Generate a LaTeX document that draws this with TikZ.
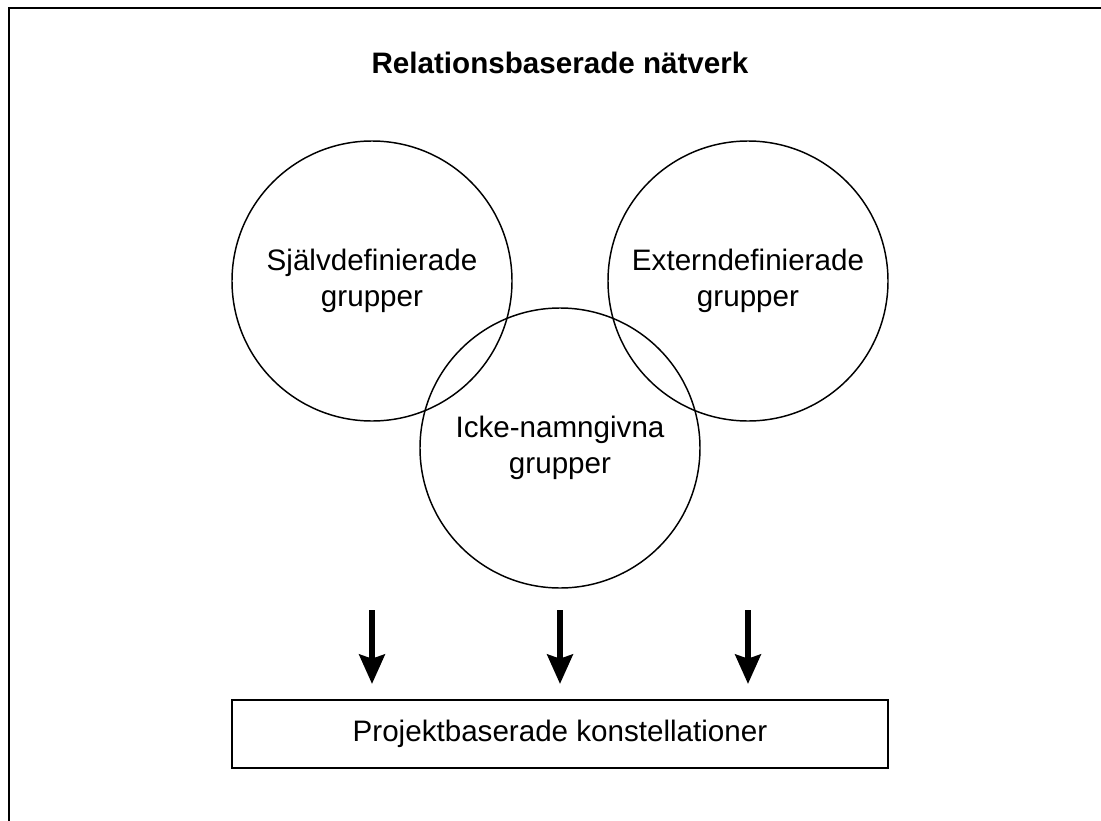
\documentclass[tikz,border=0pt]{standalone}
\usepackage{fontspec}
\setmainfont{Liberation Sans}
\usetikzlibrary{arrows.meta}

\begin{document}
\begin{tikzpicture}[x=0.75pt, y=-0.75pt,
    every node/.style={font=\fontsize{22.2}{27.5}\selectfont},
    grupp/.style={circle, draw, line width=1.1pt, minimum size=210pt, inner sep=0pt, align=center},
    pil/.style={-{Stealth[length=22pt, width=19pt, inset=3pt]}, line width=4.5pt}]

    \useasboundingbox (0,0) rectangle (1101,821);
    \draw[line width=1.5pt] (9,821) -- (9,8) -- (1101,8);

    \node[font=\fontsize{22.2}{27.5}\selectfont\bfseries, anchor=base] (titel) at (560,73) {Relationsbaserade nätverk};

    \foreach \n/\x/\y/\t in {S/372/281/{Självdefinierade\\grupper}, E/748/281/{Externdefinierade\\grupper}, I/560/448/{Icke-namngivna\\grupper}}
        \node[grupp] (g\n) at (\x,\y) {\t};

    \node[draw, line width=1.2pt, minimum width=492pt, minimum height=51pt] (proj) at (560,734) {Projektbaserade konstellationer};

    \coordinate (topp) at (0,610);
    \coordinate (spets) at (0,684);
    \foreach \n in {S, I, E}
        \draw[pil] (g\n |- topp) -- (g\n |- spets);
\end{tikzpicture}
\end{document}
